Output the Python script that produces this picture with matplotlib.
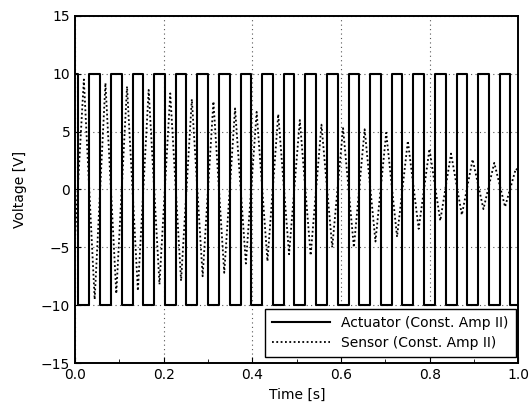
import matplotlib
matplotlib.use("Agg")
import matplotlib.pyplot as plt
from matplotlib.ticker import MultipleLocator

# ---- data ----
act_high = 10.0
act_low = -10.0
# actuator falling / rising edge times [s]
fall_times = [0.0073, 0.0560, 0.1047, 0.1535, 0.2022, 0.2509, 0.2996, 0.3484,
              0.3971, 0.4458, 0.4945, 0.5433, 0.5920, 0.6407, 0.6894, 0.7382,
              0.7869, 0.8356, 0.8843, 0.9331, 0.9818]
rise_times = [0.0321, 0.0808, 0.1295, 0.1783, 0.2270, 0.2757, 0.3244, 0.3732,
              0.4219, 0.4706, 0.5193, 0.5681, 0.6168, 0.6655, 0.7142, 0.7630,
              0.8117, 0.8604, 0.9091, 0.9579]

# sensor extrema (time, value)
sensor_t = [0.0, 0.0197, 0.0441, 0.0684, 0.0929, 0.1171, 0.1416, 0.1659, 0.1903,
            0.2146, 0.2390, 0.2633, 0.2877, 0.3120, 0.3364, 0.3608, 0.3852,
            0.4095, 0.4339, 0.4582, 0.4826, 0.5069, 0.5313, 0.5557, 0.5800,
            0.6044, 0.6288, 0.6531, 0.6775, 0.7018, 0.7262, 0.7506, 0.7750,
            0.7993, 0.8237, 0.8480, 0.8724, 0.8967, 0.9211, 0.9455, 0.9699,
            0.9942, 1.0]
sensor_v = [-4.0, 9.5, -9.5, 9.2, -9.0, 8.9, -8.75, 8.6, -8.2,
            8.3, -7.9, 7.8, -7.5, 7.6, -7.2, 7.0, -6.4,
            6.7, -6.2, 6.5, -5.6, 6.0, -5.7, 5.6, -5.0,
            5.3, -5.0, 5.2, -4.5, 4.9, -4.1, 4.2, -3.4,
            3.5, -2.7, 3.1, -2.2, 2.6, -1.7, 2.3, -1.5,
            1.8, 1.6]

x_ticks = [0.0, 0.2, 0.4, 0.6, 0.8, 1.0]
x_tick_labels = ['0.0', '0.2', '0.4', '0.6', '0.8', '1.0']
y_ticks = [-15, -10, -5, 0, 5, 10, 15]

# ---- build actuator step path from edge lists ----
act_t = [0.0]
act_v = [act_high]
for i, f in enumerate(fall_times):
    act_t += [f, f]
    act_v += [act_high, act_low]
    if i < len(rise_times):
        r = rise_times[i]
        act_t += [r, r]
        act_v += [act_low, act_high]
act_t.append(1.0)
act_v.append(act_low)

plt.rcParams['font.family'] = ['DejaVu Sans']
fig = plt.figure(figsize=(5.29, 4.07), dpi=100)
ax = fig.add_axes([0.142, 0.108, 0.838, 0.853])

ax.plot(act_t, act_v, color='black', linewidth=1.5, label='Actuator (Const. Amp II)')
ax.plot(sensor_t, sensor_v, color='black', linewidth=1.3, linestyle=(0, (1, 1.4)),
        label='Sensor (Const. Amp II)')

ax.set_xlim(0, 1)
ax.set_ylim(-15, 15)
ax.set_xticks(x_ticks)
ax.set_xticklabels(x_tick_labels)
ax.set_yticks(y_ticks)
ax.xaxis.set_minor_locator(MultipleLocator(0.1))
ax.tick_params(axis='both', which='both', direction='in', labelsize=10)
ax.tick_params(axis='both', which='major', length=4)
ax.tick_params(axis='x', which='minor', length=3)
ax.grid(True, which='major', color='#555555', linestyle=(0, (1, 3)), linewidth=0.8)
for s in ax.spines.values():
    s.set_linewidth(1.4)

ax.set_xlabel('Time [s]', fontsize=10, labelpad=4)
ax.set_ylabel('Voltage [V]', fontsize=10, labelpad=10)

leg = ax.legend(loc='lower right', bbox_to_anchor=(1.0, 0.01), fontsize=10,
                frameon=True, fancybox=False, edgecolor='black', framealpha=1,
                borderaxespad=0.2, handlelength=4.2, borderpad=0.5,
                labelspacing=0.45)
leg.get_frame().set_linewidth(1.0)

fig.savefig('out.png', dpi=100)
